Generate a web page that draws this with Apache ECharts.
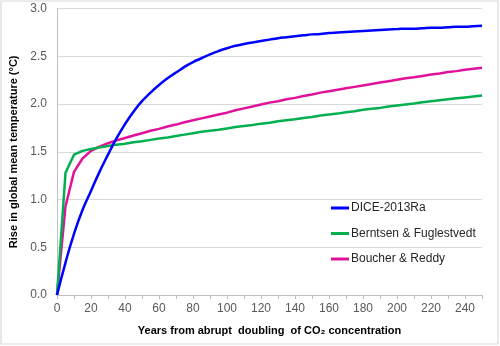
<!DOCTYPE html>
<html>
<head>
<meta charset="utf-8">
<script src="https://cdn.jsdelivr.net/npm/echarts@6/dist/echarts.min.js"></script>
<style>
  html, body { margin: 0; padding: 0; background: #fff; }
  #chart { width: 500px; height: 346px; }
</style>
</head>
<body>
<div id="chart"></div>
<script>
// Years after the abrupt CO2 doubling, in 5-year steps
const years = [];
for (let y = 0; y <= 250; y += 5) years.push(y);

// Temperature rise (°C) for each response model
const dice2013 = [
  0, 0.34, 0.64, 0.89, 1.09, 1.29, 1.47, 1.64, 1.79, 1.92, 2.03,
  2.12, 2.20, 2.27, 2.33, 2.39, 2.44, 2.48, 2.52, 2.555, 2.585,
  2.61, 2.63, 2.645, 2.66, 2.675, 2.69, 2.70, 2.71, 2.72, 2.73,
  2.735, 2.745, 2.75, 2.755, 2.76, 2.765, 2.77, 2.775, 2.78, 2.785,
  2.79, 2.79, 2.795, 2.80, 2.80, 2.805, 2.81, 2.81, 2.815, 2.82
];
const berntsen = [
  0, 1.28, 1.47, 1.51, 1.53, 1.545, 1.56, 1.575, 1.585, 1.60, 1.61,
  1.625, 1.64, 1.65, 1.665, 1.68, 1.695, 1.71, 1.72, 1.73, 1.745,
  1.76, 1.77, 1.78, 1.795, 1.805, 1.82, 1.83, 1.84, 1.855, 1.865,
  1.88, 1.89, 1.90, 1.915, 1.925, 1.94, 1.95, 1.96, 1.975, 1.985,
  1.995, 2.005, 2.02, 2.03, 2.04, 2.05, 2.06, 2.07, 2.08, 2.09
];
const boucher = [
  0, 0.93, 1.29, 1.43, 1.51, 1.555, 1.59, 1.62, 1.645, 1.67, 1.695,
  1.72, 1.74, 1.765, 1.785, 1.81, 1.83, 1.85, 1.87, 1.89, 1.91,
  1.935, 1.955, 1.975, 1.995, 2.015, 2.03, 2.05, 2.065, 2.085, 2.10,
  2.12, 2.135, 2.15, 2.165, 2.18, 2.195, 2.21, 2.225, 2.24, 2.255,
  2.27, 2.28, 2.295, 2.31, 2.32, 2.335, 2.345, 2.36, 2.37, 2.38
];

const seriesNames = ['DICE-2013Ra', 'Berntsen & Fuglestvedt', 'Boucher & Reddy'];
const seriesColors = ['#0000FF', '#00B050', '#E0129A'];
const seriesValues = [dice2013, berntsen, boucher];
// the DICE response is a smooth exponential approach; the others are drawn as polylines
const seriesSmooth = [0.5, false, false];

const FONT = 'Liberation Sans, Arial, sans-serif';

const chart = echarts.init(document.getElementById('chart'), null, { renderer: 'canvas' });

chart.setOption({
  animation: false,
  backgroundColor: '#ffffff',
  graphic: [{
    type: 'rect',
    shape: { x: 1, y: 1, width: 497, height: 343 },
    style: { fill: 'none', stroke: '#d9d9d9', lineWidth: 1.2 },
    silent: true
  }],
  grid: { left: 57, right: 18, top: 8.6, bottom: 51 },
  legend: {
    orient: 'vertical',
    left: 326,
    top: 196,
    itemWidth: 18,
    itemHeight: 3,
    itemGap: 11.5,
    icon: 'rect',
    textStyle: { fontFamily: FONT, fontSize: 12, lineHeight: 14, color: '#262626', padding: [0, 0, 0, -3] },
    data: seriesNames
  },
  xAxis: {
    type: 'value',
    min: 0,
    max: 250,
    interval: 10,
    name: 'Years from abrupt  doubling  of CO₂ concentration',
    nameLocation: 'middle',
    nameGap: 30,
    nameTextStyle: { fontFamily: FONT, fontSize: 11, fontWeight: 'bold', color: '#000' },
    axisLine: { show: true, lineStyle: { color: '#bfbfbf', width: 1 } },
    axisTick: { show: true, length: 4, lineStyle: { color: '#bfbfbf' } },
    splitLine: { show: false },
    axisLabel: {
      fontFamily: FONT, fontSize: 12, color: '#595959', margin: 8,
      formatter: v => (v % 20 === 0 && v < 250) ? String(v) : ''
    }
  },
  yAxis: {
    type: 'value',
    min: 0,
    max: 3,
    interval: 0.5,
    name: 'Rise in global mean temperature (°C)',
    nameLocation: 'middle',
    nameGap: 35,
    nameTextStyle: { fontFamily: FONT, fontSize: 11, fontWeight: 'bold', color: '#000' },
    axisLine: { show: true, lineStyle: { color: '#bfbfbf', width: 1 } },
    axisTick: { show: false },
    splitLine: { show: true, lineStyle: { color: '#d9d9d9', width: 1 } },
    axisLabel: {
      fontFamily: FONT, fontSize: 12, color: '#595959', margin: 10,
      formatter: v => v.toFixed(1)
    }
  },
  series: seriesNames.map((name, i) => ({
    name: name,
    type: 'line',
    data: years.map((y, k) => [y, seriesValues[i][k]]),
    showSymbol: false,
    symbol: 'none',
    smooth: seriesSmooth[i],
    color: seriesColors[i],
    lineStyle: { color: seriesColors[i], width: 2.5 },
    z: 3 - i
  }))
});
</script>
</body>
</html>
